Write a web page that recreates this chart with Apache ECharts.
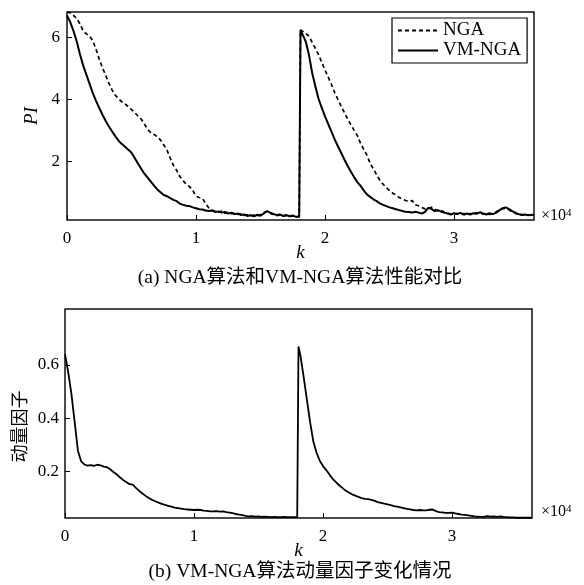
<!DOCTYPE html>
<html>
<head>
<meta charset="utf-8">
<script src="https://cdn.jsdelivr.net/npm/echarts@6/dist/echarts.min.js"></script>
<style>
  html, body { margin: 0; padding: 0; background: #fff; }
  #main { width: 584px; height: 585px; }
</style>
</head>
<body>
<div id="main"></div>
<script>
// Iteration index k (in units of 10^4), shared by all three curves
const kGrid = [
  0, 0.025, 0.05, 0.075, 0.1, 0.125, 0.15, 0.175,
  0.2, 0.225, 0.25, 0.275, 0.3, 0.325, 0.35, 0.375,
  0.4, 0.425, 0.45, 0.475, 0.5, 0.525, 0.55, 0.575,
  0.6, 0.625, 0.65, 0.675, 0.7, 0.725, 0.75, 0.775,
  0.8, 0.825, 0.85, 0.875, 0.9, 0.925, 0.95, 0.975,
  1.0, 1.025, 1.05, 1.075, 1.1, 1.125, 1.15, 1.175,
  1.2, 1.225, 1.25, 1.275, 1.3, 1.325, 1.35, 1.375,
  1.4, 1.425, 1.45, 1.475, 1.5, 1.525, 1.55, 1.575,
  1.6, 1.625, 1.65, 1.675, 1.7, 1.725, 1.75, 1.775,
  1.8, 1.81,
  1.825, 1.85, 1.875, 1.9, 1.925, 1.95, 1.975, 2.0,
  2.025, 2.05, 2.075, 2.1, 2.125, 2.15, 2.175, 2.2,
  2.225, 2.25, 2.275, 2.3, 2.325, 2.35, 2.375, 2.4,
  2.425, 2.45, 2.475, 2.5, 2.525, 2.55, 2.575, 2.6,
  2.625, 2.65, 2.675, 2.7, 2.725, 2.75, 2.775, 2.8,
  2.825, 2.85, 2.875, 2.9, 2.925, 2.95, 2.975, 3.0,
  3.025, 3.05, 3.075, 3.1, 3.125, 3.15, 3.175, 3.2,
  3.225, 3.25, 3.275, 3.3, 3.325, 3.35, 3.375, 3.4,
  3.425, 3.45, 3.475, 3.5, 3.525, 3.55, 3.575, 3.6,
  3.62
];

// Performance index PI of the plain NGA algorithm
const ngaPI = [
  6.83, 6.80, 6.72, 6.62, 6.45, 6.22, 6.12, 6.05,
  5.90, 5.62, 5.30, 5.02, 4.78, 4.52, 4.30, 4.13,
  4.02, 3.92, 3.85, 3.76, 3.67, 3.57, 3.46, 3.36,
  3.20, 3.02, 2.92, 2.86, 2.79, 2.68, 2.52, 2.36,
  2.10, 1.86, 1.70, 1.50, 1.36, 1.25, 1.17, 1.05,
  0.86, 0.82, 0.79, 0.62, 0.48, 0.40, 0.37, 0.34,
  0.38, 0.31, 0.34, 0.29, 0.31, 0.27, 0.29, 0.24,
  0.26, 0.22, 0.25, 0.22, 0.27, 0.33, 0.36, 0.30,
  0.27, 0.23, 0.25, 0.21, 0.24, 0.20, 0.22, 0.20,
  0.19, 6.25,
  6.22, 6.14, 6.05, 5.85, 5.65, 5.45, 5.20, 4.95,
  4.72, 4.48, 4.22, 4.00, 3.78, 3.57, 3.37, 3.18,
  3.00, 2.83, 2.58, 2.38, 2.19, 1.92, 1.75, 1.55,
  1.38, 1.25, 1.14, 1.04, 0.96, 0.90, 0.82, 0.77,
  0.72, 0.70, 0.72, 0.58, 0.55, 0.50, 0.45, 0.47,
  0.50, 0.44, 0.38, 0.40, 0.34, 0.31, 0.29, 0.27,
  0.31, 0.28, 0.30, 0.27, 0.30, 0.28, 0.32, 0.31,
  0.28, 0.30, 0.27, 0.31, 0.35, 0.42, 0.45, 0.47,
  0.42, 0.35, 0.31, 0.26, 0.27, 0.24, 0.26, 0.24,
  0.26
];

// Performance index PI of VM-NGA (variable momentum)
const vmngaPI = [
  6.72, 6.50, 6.22, 5.88, 5.47, 5.10, 4.80, 4.50,
  4.20, 3.95, 3.72, 3.50, 3.30, 3.12, 2.96, 2.80,
  2.66, 2.55, 2.46, 2.37, 2.27, 2.10, 1.92, 1.75,
  1.59, 1.46, 1.33, 1.20, 1.08, 0.99, 0.90, 0.86,
  0.80, 0.74, 0.70, 0.62, 0.58, 0.55, 0.54, 0.50,
  0.47, 0.44, 0.43, 0.40, 0.38, 0.40, 0.35, 0.37,
  0.33, 0.35, 0.30, 0.33, 0.28, 0.30, 0.25, 0.27,
  0.22, 0.25, 0.21, 0.26, 0.23, 0.30, 0.38, 0.33,
  0.29, 0.25, 0.27, 0.22, 0.25, 0.21, 0.24, 0.19,
  0.21, 6.25,
  6.22, 5.88, 5.45, 4.87, 4.42, 4.02, 3.72, 3.45,
  3.20, 2.95, 2.70, 2.48, 2.27, 2.05, 1.85, 1.66,
  1.48, 1.32, 1.20, 1.05, 0.92, 0.84, 0.76, 0.70,
  0.63, 0.58, 0.54, 0.50, 0.47, 0.44, 0.41, 0.38,
  0.36, 0.35, 0.33, 0.36, 0.33, 0.30, 0.35, 0.48,
  0.45, 0.38, 0.41, 0.36, 0.33, 0.30, 0.27, 0.31,
  0.28, 0.32, 0.26, 0.30, 0.27, 0.31, 0.29, 0.34,
  0.30, 0.27, 0.31, 0.28, 0.32, 0.40, 0.47, 0.50,
  0.45, 0.38, 0.33, 0.28, 0.25, 0.27, 0.24, 0.26,
  0.25
];

// Momentum factor of VM-NGA
const momentum = [
  0.640, 0.572, 0.490, 0.385, 0.278, 0.238, 0.226, 0.222,
  0.224, 0.221, 0.225, 0.223, 0.218, 0.216, 0.208, 0.198,
  0.189, 0.178, 0.168, 0.160, 0.152, 0.150, 0.138, 0.127,
  0.117, 0.108, 0.100, 0.093, 0.088, 0.083, 0.078, 0.074,
  0.071, 0.068, 0.064, 0.062, 0.060, 0.058, 0.057, 0.056,
  0.055, 0.056, 0.055, 0.053, 0.052, 0.050, 0.050, 0.051,
  0.049, 0.050, 0.047, 0.045, 0.043, 0.040, 0.038, 0.036,
  0.033, 0.031, 0.032, 0.030, 0.031, 0.029, 0.030, 0.029,
  0.028, 0.029, 0.028, 0.028, 0.029, 0.028, 0.028, 0.028,
  0.028, 0.669,
  0.635, 0.555, 0.470, 0.385, 0.312, 0.270, 0.240, 0.220,
  0.205, 0.188, 0.172, 0.160, 0.148, 0.138, 0.128, 0.121,
  0.114, 0.109, 0.104, 0.100, 0.097, 0.096, 0.093, 0.089,
  0.085, 0.082, 0.079, 0.076, 0.073, 0.070, 0.068, 0.065,
  0.062, 0.059, 0.057, 0.055, 0.054, 0.055, 0.054, 0.054,
  0.056, 0.057, 0.051, 0.047, 0.046, 0.044, 0.044, 0.045,
  0.042, 0.040, 0.038, 0.037, 0.035, 0.033, 0.031, 0.030,
  0.029, 0.030, 0.032, 0.030, 0.031, 0.029, 0.031, 0.029,
  0.028, 0.027, 0.027, 0.026, 0.026, 0.026, 0.026, 0.026,
  0.026
];

// Tick labels
const kTicks = [0, 1, 2, 3];
const piTicks = [2, 4, 6];
const momentumTicks = [0.2, 0.4, 0.6];

const seriesNames = ['NGA', 'VM-NGA'];
const captionA = '(a) NGA算法和VM-NGA算法性能对比';
const captionB = '(b) VM-NGA算法动量因子变化情况';

const SERIF = '"Liberation Serif", "Times New Roman", "Noto Sans CJK SC", serif';
const INK = '#000';

function pairs(xs, ys) {
  return xs.map((x, i) => [x, ys[i]]);
}

function kAxis(gridIndex) {
  return {
    gridIndex,
    type: 'value',
    min: 0,
    max: 3.62,
    name: 'k',
    nameLocation: 'middle',
    nameGap: 23,
    nameMoveOverlap: false,
    nameTextStyle: { fontFamily: SERIF, fontStyle: 'italic', fontSize: 19, color: INK },
    axisLine: { show: false },
    axisTick: { show: true, inside: true, length: 5, customValues: kTicks, lineStyle: { color: INK, width: 1 } },
    axisLabel: { customValues: kTicks, color: INK, fontFamily: SERIF, fontSize: 17, margin: 10 },
    splitLine: { show: false }
  };
}

const superscriptRich = {
  a: { fontFamily: SERIF, fontSize: 16, fill: INK },
  b: { fontFamily: SERIF, fontSize: 11, fill: INK, verticalAlign: 'top' }
};

const chart = echarts.init(document.getElementById('main'), null, { renderer: 'canvas' });

chart.setOption({
  animation: false,
  backgroundColor: '#fff',
  grid: [
    { left: 67, top: 12, width: 467, height: 208, show: true, borderColor: '#111', borderWidth: 1.5, backgroundColor: 'transparent' },
    { left: 65, top: 309, width: 467, height: 209, show: true, borderColor: '#111', borderWidth: 1.5, backgroundColor: 'transparent' }
  ],
  xAxis: [kAxis(0), kAxis(1)],
  yAxis: [
    {
      gridIndex: 0,
      type: 'value',
      min: 0.09,
      max: 6.83,
      name: 'PI',
      nameLocation: 'middle',
      nameRotate: 90,
      nameGap: 25,
      nameMoveOverlap: false,
      nameTextStyle: { fontFamily: SERIF, fontStyle: 'italic', fontSize: 19, color: INK },
      axisLine: { show: false },
      axisTick: { show: true, inside: true, length: 5, customValues: piTicks, lineStyle: { color: INK, width: 1 } },
      axisLabel: { customValues: piTicks, color: INK, fontFamily: SERIF, fontSize: 17, margin: 7 },
      splitLine: { show: false }
    },
    {
      gridIndex: 1,
      type: 'value',
      min: 0.025,
      max: 0.81,
      name: '动量因子',
      nameLocation: 'middle',
      nameRotate: 90,
      nameGap: 35,
      nameMoveOverlap: false,
      nameTextStyle: { fontFamily: SERIF, fontSize: 18, color: INK, padding: [0, 26, 0, 0] },
      axisLine: { show: false },
      axisTick: { show: true, inside: true, length: 5, customValues: momentumTicks, lineStyle: { color: INK, width: 1 } },
      axisLabel: { customValues: momentumTicks, color: INK, fontFamily: SERIF, fontSize: 17, margin: 6 },
      splitLine: { show: false }
    }
  ],
  legend: {
    data: seriesNames,
    orient: 'vertical',
    left: 392,
    top: 18,
    itemWidth: 40,
    itemHeight: 14,
    itemGap: 1,
    padding: [3, 6, 3, 5],
    borderColor: INK,
    borderWidth: 1.2,
    borderRadius: 0,
    backgroundColor: '#fff',
    itemStyle: { opacity: 0 },
    textStyle: { fontFamily: SERIF, fontSize: 19, lineHeight: 18, color: INK }
  },
  series: [
    {
      name: seriesNames[0],
      type: 'line',
      xAxisIndex: 0,
      yAxisIndex: 0,
      data: pairs(kGrid, ngaPI),
      symbol: 'none',
      lineStyle: { color: INK, width: 1.7, type: [4, 3] },
      itemStyle: { color: INK },
      z: 3
    },
    {
      name: seriesNames[1],
      type: 'line',
      xAxisIndex: 0,
      yAxisIndex: 0,
      data: pairs(kGrid, vmngaPI),
      symbol: 'none',
      lineStyle: { color: INK, width: 2 },
      itemStyle: { color: INK },
      z: 4
    },
    {
      name: '动量因子',
      type: 'line',
      xAxisIndex: 1,
      yAxisIndex: 1,
      data: pairs(kGrid, momentum),
      symbol: 'none',
      lineStyle: { color: INK, width: 1.8 },
      itemStyle: { color: INK }
    }
  ],
  graphic: [
    { type: 'text', left: 541, top: 208, style: { text: '{a|×10}{b|4}', rich: superscriptRich } },
    { type: 'text', left: 541, top: 504, style: { text: '{a|×10}{b|4}', rich: superscriptRich } },
    {
      type: 'text', x: 300, y: 278,
      style: { text: captionA, fontFamily: SERIF, fontSize: 19.5, fill: INK, align: 'center', verticalAlign: 'middle' }
    },
    {
      type: 'text', x: 300, y: 572,
      style: { text: captionB, fontFamily: SERIF, fontSize: 19.5, fill: INK, align: 'center', verticalAlign: 'middle' }
    }
  ]
});
</script>
</body>
</html>
